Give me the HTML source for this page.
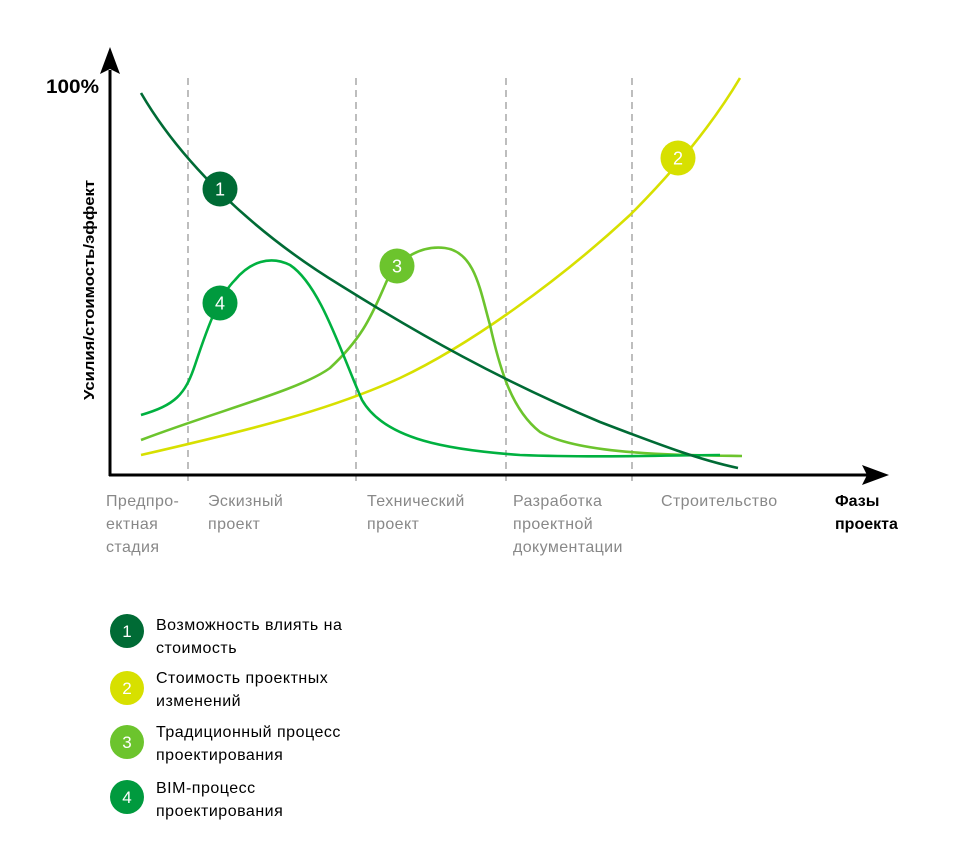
<!DOCTYPE html>
<html><head><meta charset="utf-8"><style>
html,body{margin:0;padding:0;background:#fff;}
body{width:959px;height:839px;overflow:hidden;}
svg text{font-family:"Liberation Sans","DejaVu Sans",sans-serif;}
</style></head><body>
<svg width="959" height="839" viewBox="0 0 959 839" xmlns="http://www.w3.org/2000/svg">
<g stroke="#9a9a9a" stroke-width="1.3" stroke-dasharray="7,5">
<line x1="188" y1="78" x2="188" y2="482"/>
<line x1="356" y1="78" x2="356" y2="482"/>
<line x1="506" y1="78" x2="506" y2="482"/>
<line x1="632" y1="78" x2="632" y2="482"/>
</g>
<line x1="110" y1="70" x2="110" y2="476" stroke="#000" stroke-width="3"/>
<polygon points="110,47 100,74 110,69 120,74" fill="#000"/>
<line x1="109" y1="475" x2="870" y2="475" stroke="#000" stroke-width="3"/>
<polygon points="889,475 862,465 867,475 862,485" fill="#000"/>
<g fill="none" stroke-width="2.6">
<path d="M141,455 C250,430 330,410 400,378 C470,345 560,280 630,215 C680,165 715,120 740,78" stroke="#d7e000"/>
<path d="M141,440 C220,410 300,390 330,368 C360,340 370,320 385,285 C395,260 420,245 445,248 C475,252 480,290 490,325 C500,370 512,410 540,432 C580,455 680,455 742,456" stroke="#6cc42d"/>
<path d="M141,415 C175,405 185,395 195,365 C210,320 220,295 235,280 C250,262 270,255 290,265 C320,285 340,350 362,400 C385,440 450,450 520,455 C600,458 680,455 720,455" stroke="#00b140"/>
<path d="M141,93 C180,160 250,230 340,285 C420,335 500,380 600,422 C660,445 700,460 738,468" stroke="#006b35"/>
</g>
<g font-size="18" fill="#fff" text-anchor="middle">
<circle cx="220" cy="189" r="17.5" fill="#006b35"/><text x="220" y="195.5">1</text>
<circle cx="220" cy="303" r="17.5" fill="#009a3e"/><text x="220" y="309.5">4</text>
<circle cx="397" cy="266" r="17.5" fill="#6cc42d"/><text x="397" y="272.5">3</text>
<circle cx="678" cy="158" r="17.5" fill="#d7e000"/><text x="678" y="164.5">2</text>
</g>
<text x="46" y="93" font-size="19" font-weight="bold" fill="#000" textLength="53" lengthAdjust="spacingAndGlyphs">100%</text>
<text transform="translate(94,290) rotate(-90)" font-size="15" font-weight="bold" text-anchor="middle" fill="#000" textLength="220" lengthAdjust="spacingAndGlyphs">Усилия/стоимость/эффект</text>
<g font-size="16" fill="#888" letter-spacing="0.4">
<text x="106" y="506">Предпро-</text><text x="106" y="529">ектная</text><text x="106" y="552">стадия</text>
<text x="208" y="506">Эскизный</text><text x="208" y="529">проект</text>
<text x="367" y="506">Технический</text><text x="367" y="529">проект</text>
<text x="513" y="506">Разработка</text><text x="513" y="529">проектной</text><text x="513" y="552">документации</text>
<text x="661" y="506">Строительство</text>
</g>
<text x="835" y="506" font-size="16" font-weight="bold" fill="#000">Фазы</text>
<text x="835" y="529" font-size="16" font-weight="bold" fill="#000">проекта</text>
<g font-size="17" fill="#fff" text-anchor="middle">
<circle cx="127" cy="631" r="17" fill="#006b35"/><text x="127" y="637">1</text>
<circle cx="127" cy="688" r="17" fill="#d7e000"/><text x="127" y="694">2</text>
<circle cx="127" cy="742" r="17" fill="#6cc42d"/><text x="127" y="748">3</text>
<circle cx="127" cy="797" r="17" fill="#009a3e"/><text x="127" y="803">4</text>
</g>
<g font-size="16" fill="#000" letter-spacing="0.5">
<text x="156" y="630">Возможность влиять на</text><text x="156" y="653">стоимость</text>
<text x="156" y="683">Стоимость проектных</text><text x="156" y="706">изменений</text>
<text x="156" y="737">Традиционный процесс</text><text x="156" y="760">проектирования</text>
<text x="156" y="793">BIM-процесс</text><text x="156" y="816">проектирования</text>
</g>
</svg>
</body></html>
